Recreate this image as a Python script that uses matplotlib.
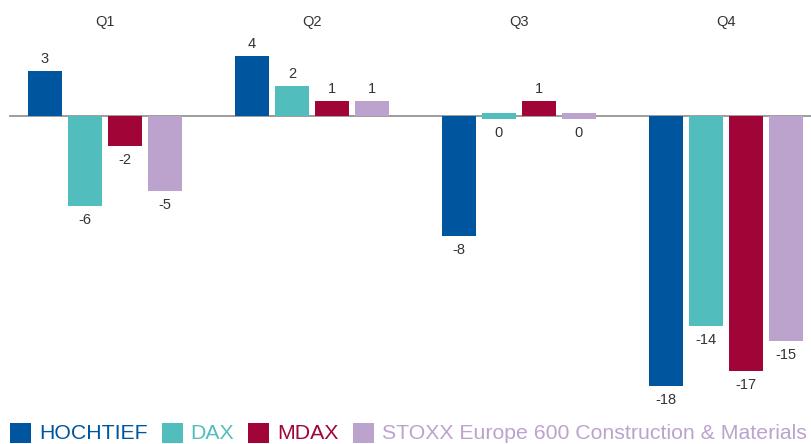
import numpy as np
import matplotlib
matplotlib.use("Agg")
import matplotlib.pyplot as plt
from matplotlib.patches import Rectangle

# datos
trimestres = ["Q1", "Q2", "Q3", "Q4"]
series = ["HOCHTIEF", "DAX", "MDAX", "STOXX Europe 600 Construction & Materials"]
hochtief = [3, 4, -8, -18]
dax = [-6, 2, 0, -14]
mdax = [-2, 1, 1, -17]
stoxx = [-5, 1, 0, -15]
colores = ["#00559F", "#52BDBD", "#A10538", "#BCA3CE"]

plt.rcParams['font.family'] = ['Liberation Sans', 'DejaVu Sans']

W, H = 812, 444
fig = plt.figure(figsize=(W / 100, H / 100), dpi=100)
ax = fig.add_axes([0, 0, 1, 1])
ax.set_axis_off()

# escala: centro del grupo Q1 en 105 px, paso 207 px; cero en 116 px, 15 px por unidad
paso = 207.0
ax.set_xlim(-105 / paso, (W - 105) / paso)
ax.set_ylim(-(H - 116) / 15.0, 116 / 15.0)

x = np.arange(len(trimestres))
ancho = 34 / paso
separacion = 40 / paso
stub = 0.2  # los valores 0 se dibujan como una barra minima

valores = [hochtief, dax, mdax, stoxx]
for i, (vals, color) in enumerate(zip(valores, colores)):
    xs = x + (i - 1.5) * separacion
    for xi, v in zip(xs, vals):
        if v == 0:
            ax.bar(xi, 2 * stub, bottom=-stub, width=ancho, color=color, zorder=3)
            ax.text(xi, -stub - 0.9, "0", ha='center', va='center', fontsize=10.5, color='#333333')
        elif v > 0:
            ax.bar(xi, v, width=ancho, color=color, zorder=3)
            ax.text(xi, v + 0.8, str(v), ha='center', va='center', fontsize=10.5, color='#333333')
        else:
            ax.bar(xi, v, width=ancho, color=color, zorder=3)
            ax.text(xi, v - 0.95, str(v), ha='center', va='center', fontsize=10.5, color='#333333')

ax.axhline(0, xmin=10 / W, xmax=1, color='#8c8c8c', linewidth=1.2, zorder=2)

for xi, t in zip(x, trimestres):
    ax.text(xi, (116 - 22) / 15.0, t, ha='center', va='center', fontsize=10.5, color='#333333')

# leyenda manual al pie
fig.canvas.draw()
renderer = fig.canvas.get_renderer()
px = 10.0
for nombre, color in zip(series, colores):
    fig.patches.append(Rectangle((px / W, 1 / H), 21 / W, 20 / H, transform=fig.transFigure,
                                 facecolor=color, edgecolor='none'))
    txt = fig.text((px + 29) / W, 5 / H, nombre, ha='left', va='baseline',
                   fontsize=15.3, color=color)
    bb = txt.get_window_extent(renderer)
    px = bb.x1 + 14

fig.savefig("out.png", dpi=100)
